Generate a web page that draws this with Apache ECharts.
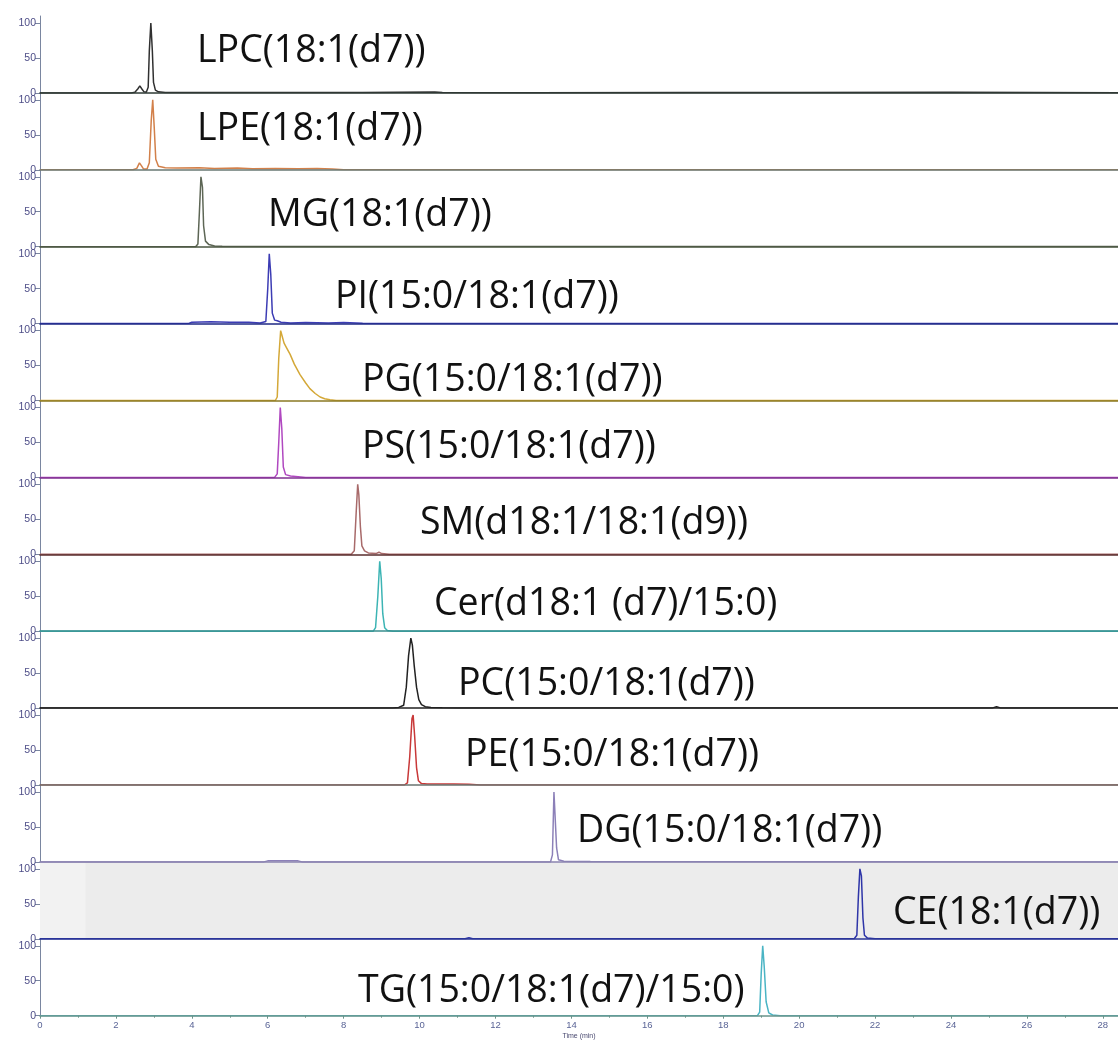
<!DOCTYPE html>
<html>
<head>
<meta charset="utf-8">
<title>Internal standard chromatograms</title>
<script src="https://cdn.jsdelivr.net/npm/echarts@6.0.0/dist/echarts.min.js"></script>
<style>
  html, body { margin: 0; padding: 0; background: #ffffff; }
  #chart { width: 1118px; height: 1045px; }
</style>
</head>
<body>
<div id="chart"></div>
<script>
// Extracted ion chromatograms of the deuterated lipid standards (relative intensity, %)
const compounds = [
  'LPC(18:1(d7))', 'LPE(18:1(d7))', 'MG(18:1(d7))', 'PI(15:0/18:1(d7))',
  'PG(15:0/18:1(d7))', 'PS(15:0/18:1(d7))', 'SM(d18:1/18:1(d9))', 'Cer(d18:1 (d7)/15:0)',
  'PC(15:0/18:1(d7))', 'PE(15:0/18:1(d7))', 'DG(15:0/18:1(d7))', 'CE(18:1(d7))',
  'TG(15:0/18:1(d7)/15:0)'
];
const yTickValues = [0, 50, 100];
const timeTickValues = [0, 2, 4, 6, 8, 10, 12, 14, 16, 18, 20, 22, 24, 26, 28];

// [time (min), intensity (%)]
const traceLPC = [[0,0],[2.4,0],[2.5,1],[2.58,6],[2.63,10],[2.68,6],[2.74,1.5],[2.8,1],[2.85,8],[2.88,60],[2.92,100],[2.96,60],[2.99,15],[3.04,4],[3.12,1.5],[3.3,0.6],[4.5,0.4],[6,0.5],[8.5,0.4],[10.4,1.2],[10.6,0.4],[13,0.3],[17,0.6],[20,0.4],[24,0.8],[28.4,0.3]];
const traceLPE = [[0,0],[2.45,0],[2.55,2],[2.62,10],[2.67,6],[2.73,1],[2.82,1],[2.88,10],[2.93,70],[2.97,100],[3.01,60],[3.05,15],[3.12,5],[3.3,3],[3.6,2.5],[4.2,3],[4.6,2],[5.2,2.5],[5.6,1.5],[6.2,2],[6.8,1.5],[7.3,2],[7.7,1],[8,0],[28.4,0]];
const traceMG = [[0,0],[4.1,0],[4.16,4],[4.2,50],[4.24,100],[4.28,85],[4.31,30],[4.36,8],[4.45,3],[4.6,1],[4.8,0.5],[28.4,0.3]];
const tracePI = [[0,0],[3.9,0],[4.0,2],[4.5,2.5],[5.0,2],[5.5,2],[5.8,1],[5.95,3],[6.0,50],[6.04,100],[6.08,70],[6.12,15],[6.18,5],[6.25,4],[6.35,2],[6.6,1],[7.0,1.5],[7.6,1],[8.0,1.5],[8.5,0.5],[28.4,0]];
const tracePG = [[0,0],[6.2,0],[6.25,5],[6.29,60],[6.34,100],[6.38,92],[6.43,82],[6.5,75],[6.59,66],[6.7,52],[6.85,37],[7.0,25],[7.11,17],[7.25,10],[7.38,5],[7.5,2.5],[7.64,1],[7.8,0],[28.4,0]];
const tracePS = [[0,0],[6.18,0],[6.25,5],[6.29,50],[6.33,100],[6.37,70],[6.41,15],[6.47,4],[6.6,2],[6.8,1],[7.0,0],[28.4,0]];
const traceSM = [[0,0],[8.2,0],[8.28,5],[8.33,60],[8.37,100],[8.4,85],[8.44,40],[8.48,12],[8.55,5],[8.65,2],[8.85,1],[8.93,3],[9.0,1],[9.2,0],[28.4,0]];
const traceCer = [[0,0],[8.78,0],[8.84,5],[8.9,50],[8.95,100],[8.99,75],[9.03,25],[9.08,5],[9.15,1],[9.3,0],[28.4,0]];
const tracePC = [[0,0],[9.3,0],[9.45,1],[9.58,4],[9.65,30],[9.71,75],[9.77,100],[9.81,90],[9.86,60],[9.92,30],[9.98,12],[10.05,5],[10.15,2],[10.3,1],[10.6,0.5],[11,0.3],[25.1,0.3],[25.2,2],[25.3,0.3],[28.4,0.2]];
const tracePE = [[0,0],[9.6,0],[9.68,3],[9.74,40],[9.8,95],[9.83,100],[9.87,70],[9.92,25],[9.97,6],[10.05,2],[10.2,1.5],[10.9,1.5],[11.3,1],[11.6,0],[28.4,0]];
const traceDG = [[0,0],[5.9,0],[6,1.5],[6.8,1.5],[6.9,0],[13.45,0],[13.5,10],[13.54,100],[13.58,100],[13.61,20],[13.66,3],[13.8,1],[14.5,0.5],[28.4,0]];
const traceCE = [[0,0],[11.2,0],[11.3,1.5],[11.4,0],[21.45,0],[21.52,5],[21.56,60],[21.6,100],[21.64,90],[21.68,30],[21.72,5],[21.8,1],[22,0],[28.4,0]];
const traceTG = [[0,0],[18.9,0],[18.96,5],[19.0,60],[19.04,100],[19.08,70],[19.13,20],[19.2,4],[19.3,1],[19.5,0],[28.4,0]];

const traces = [traceLPC, traceLPE, traceMG, tracePI, tracePG, tracePS, traceSM,
                traceCer, tracePC, tracePE, traceDG, traceCE, traceTG];

// trace colour, baseline colour, label anchor (px)
const panelStyle = [
  { line: '#303030', base: '#2f3b36', lx: 197, ly: 48 },
  { line: '#d2804a', base: '#6a7a74', lx: 197, ly: 126 },
  { line: '#5d6655', base: '#4a5540', lx: 268, ly: 212 },
  { line: '#3c3cb4', base: '#1f2a85', lx: 335, ly: 294 },
  { line: '#d4a838', base: '#8a7a25', lx: 362, ly: 377 },
  { line: '#b048c0', base: '#7f3090', lx: 362, ly: 444 },
  { line: '#a86a6a', base: '#5a2e2e', lx: 420, ly: 520 },
  { line: '#3cb4b4', base: '#3a8e8e', lx: 434, ly: 601 },
  { line: '#222222', base: '#222222', lx: 458, ly: 681 },
  { line: '#c83838', base: '#6a7470', lx: 465, ly: 752 },
  { line: '#8c80b8', base: '#8a84b0', lx: 577, ly: 828 },
  { line: '#2e35a8', base: '#2a3595', lx: 893, ly: 910 },
  { line: '#4ab4c4', base: '#6a948a', lx: 358, ly: 988 }
];

const X_MAX = 28.4;
const Y_TOP = 110;          // headroom above 100 so the panels butt together
const PITCH = 76.9;
const FIRST_TOP = 16;
const n = compounds.length;

const grids = [], xAxes = [], yAxes = [], series = [], graphics = [];
for (let i = 0; i < n; i++) {
  const st = panelStyle[i];
  const isLast = i === n - 1;
  const isCE = i === 11;
  grids.push({
    left: 40, right: 0, top: FIRST_TOP + i * PITCH, height: PITCH,
    show: isCE, backgroundColor: isCE ? '#ececec' : 'transparent', borderWidth: 0
  });
  xAxes.push({
    type: 'value', gridIndex: i, min: 0, max: X_MAX, interval: 2, z: 3,
    axisLine: { show: true, onZero: false, lineStyle: { color: st.base, width: 1.6 } },
    axisTick: isLast ? { show: true, length: 3, lineStyle: { color: '#6a948a' } } : { show: false },
    minorTick: isLast ? { show: true, splitNumber: 2, length: 2, lineStyle: { color: '#6a948a' } } : { show: false },
    axisLabel: isLast ? {
      show: true, fontSize: 9.5, color: '#5a6496', fontFamily: 'Liberation Sans', margin: 5,
      showMaxLabel: false,
      formatter: v => timeTickValues.includes(v) ? String(v) : ''
    } : { show: false },
    splitLine: { show: false },
    name: isLast ? 'Time (min)' : '',
    nameLocation: 'middle', nameGap: 17,
    nameTextStyle: { fontSize: 7, color: '#4a4a70', fontFamily: 'Liberation Sans' }
  });
  // labelled axis with major ticks
  yAxes.push({
    type: 'value', gridIndex: i, min: 0, max: Y_TOP, interval: 50,
    axisLine: { show: true, lineStyle: { color: '#7a86a0', width: 1 } },
    axisTick: { show: true, length: 5, lineStyle: { color: '#7a86a0' } },
    axisLabel: {
      show: true, fontSize: 10.5, color: '#4e4e88', margin: 4, fontFamily: 'Liberation Sans',
      showMaxLabel: false,
      formatter: v => yTickValues.includes(v) ? String(v) : ''
    },
    splitLine: { show: false }
  });
  // fine graduation
  yAxes.push({
    type: 'value', gridIndex: i, min: 0, max: Y_TOP, interval: 5,
    axisLine: { show: false },
    axisTick: { show: true, length: 2.5, lineStyle: { color: '#8a94ac' } },
    axisLabel: { show: false },
    splitLine: { show: false }
  });
  const s = {
    type: 'line', name: compounds[i], xAxisIndex: i, yAxisIndex: 2 * i,
    data: traces[i], symbol: 'none', showSymbol: false, animation: false,
    lineStyle: { color: st.line, width: 1.5 }, itemStyle: { color: st.line }, z: 2
  };
  if (isCE) {
    s.markArea = {
      silent: true,
      itemStyle: { color: '#f2f2f2' },
      data: [[{ xAxis: 0 }, { xAxis: 1.2 }]]
    };
  }
  series.push(s);
  graphics.push({
    type: 'text', left: st.lx, top: st.ly - 16, z: 10,
    style: {
      text: compounds[i], fill: '#111111',
      font: '37.5px "Open Sans", "Noto Sans", sans-serif'
    }
  });
}

const chart = echarts.init(document.getElementById('chart'), null, { renderer: 'canvas' });
chart.setOption({
  animation: false,
  backgroundColor: '#ffffff',
  grid: grids,
  xAxis: xAxes,
  yAxis: yAxes,
  series: series,
  graphic: graphics
});
</script>
</body>
</html>
